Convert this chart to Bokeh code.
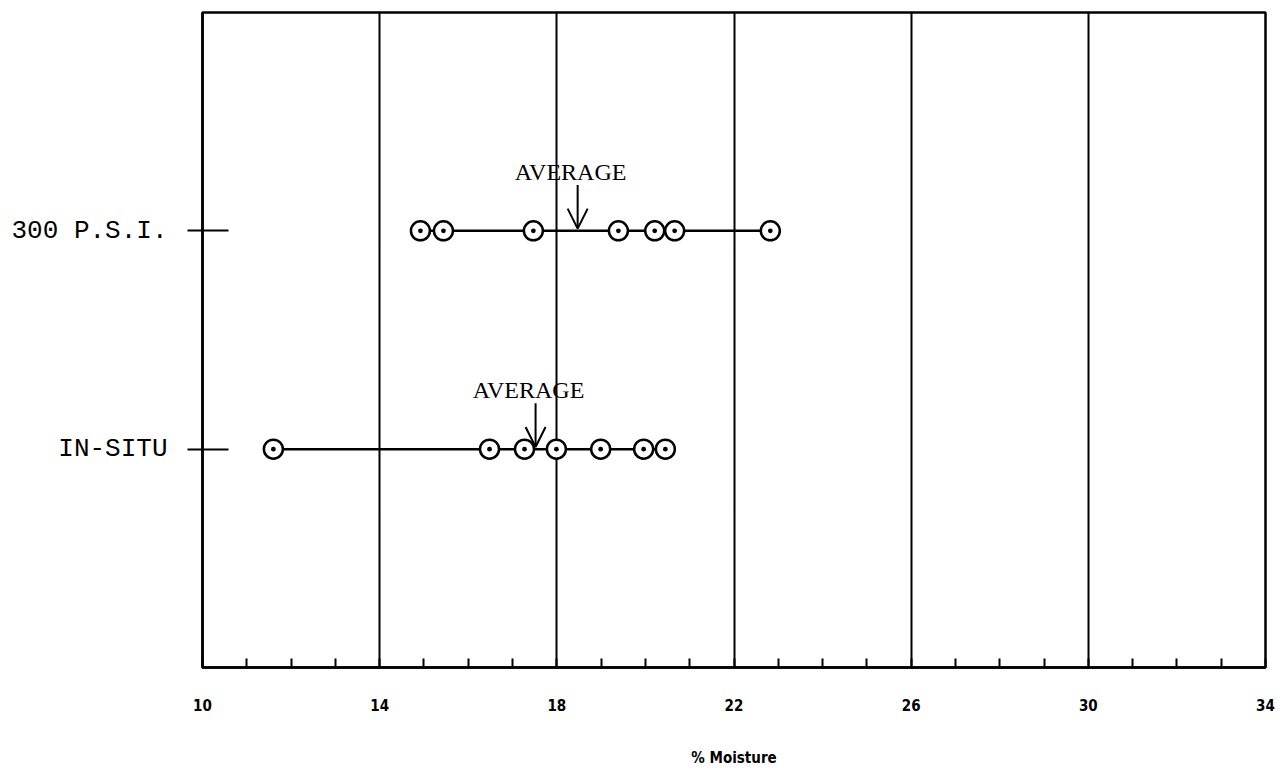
from bokeh.plotting import figure
from bokeh.models import FixedTicker, Arrow, OpenHead, ColumnDataSource
from bokeh.core.properties import value
from bokeh.embed import file_html
from bokeh.resources import INLINE

# Moisture readings (%) for each test condition
psi300_moisture = [14.92, 15.44, 17.47, 19.39, 20.21, 20.66, 22.82]
insitu_moisture = [11.60, 16.48, 17.27, 17.99, 18.99, 19.96, 20.45]
averages = {"300 P.S.I.": 18.47, "IN-SITU": 17.52}

row_labels = ["IN-SITU", "300 P.S.I."]
row_pos = [1, 2]
x_ticks = [10, 14, 18, 22, 26, 30, 34]
x_minor = list(range(10, 35))

p = figure(width=1284, height=770, x_range=(10, 34), y_range=(0, 3),
           output_backend="svg", toolbar_location=None,
           min_border_left=202, min_border_right=19,
           min_border_top=12, min_border_bottom=103,
           background_fill_color="white", border_fill_color="white")

p.outline_line_color = "black"
p.outline_line_width = 2.5

# x axis
p.xaxis.ticker = FixedTicker(ticks=x_ticks, minor_ticks=x_minor)
p.xaxis.axis_line_color = "black"
p.xaxis.axis_line_width = 2.5
p.xaxis.major_tick_in = 0
p.xaxis.major_tick_out = 0
p.xaxis.minor_tick_in = 9
p.xaxis.minor_tick_out = 0
p.xaxis.minor_tick_line_width = 2
p.xaxis.minor_tick_line_color = "black"
p.xaxis.major_label_standoff = 31
p.xaxis.major_label_text_font = "'Liberation Sans Narrow', 'DejaVu Sans Condensed', sans-serif"
p.xaxis.major_label_text_font_style = "bold"
p.xaxis.major_label_text_font_size = "15px"
p.xaxis.major_label_text_color = "black"
p.xaxis.axis_label = "% Moisture"
p.xaxis.axis_label_standoff = 35
p.xaxis.axis_label_text_font = "'Liberation Sans Narrow', 'DejaVu Sans Condensed', sans-serif"
p.xaxis.axis_label_text_font_style = "bold"
p.xaxis.axis_label_text_font_size = "15px"
p.xaxis.axis_label_text_color = "black"

# y axis with the two condition rows
p.yaxis.ticker = FixedTicker(ticks=row_pos)
p.yaxis.major_label_overrides = {pos: lab for pos, lab in zip(row_pos, row_labels)}
p.yaxis.axis_line_color = "black"
p.yaxis.axis_line_width = 2.5
p.yaxis.major_tick_out = 15
p.yaxis.major_tick_in = 26
p.yaxis.major_tick_line_width = 2
p.yaxis.major_tick_line_color = "black"
p.yaxis.minor_tick_line_color = None
p.yaxis.major_label_standoff = 20
p.yaxis.major_label_text_font = "Liberation Mono"
p.yaxis.major_label_text_font_size = "26px"
p.yaxis.major_label_text_color = "black"

p.xgrid.ticker = FixedTicker(ticks=x_ticks)
p.xgrid.grid_line_color = "black"
p.xgrid.grid_line_width = 2
p.xgrid.grid_line_alpha = 1
p.ygrid.grid_line_color = None

series = [("300 P.S.I.", 2, psi300_moisture), ("IN-SITU", 1, insitu_moisture)]

for name, ypos, vals in series:
    # range line from lowest to highest reading
    p.segment(x0=[min(vals)], y0=[ypos], x1=[max(vals)], y1=[ypos],
              line_color="black", line_width=2.5)
    src = ColumnDataSource(dict(x=vals, y=[ypos] * len(vals)))
    p.scatter("x", "y", source=src, marker="circle_dot", size=19,
              line_color="black", line_width=2.5, fill_color="white")

    avg = averages[name]
    p.add_layout(Arrow(end=OpenHead(size=20, line_width=2, line_color="black"),
                       x_start=avg, y_start=ypos + 0.21, x_end=avg, y_end=ypos + 0.01,
                       line_width=2, line_color="black"))
    p.text(x=[avg], y=[ypos + 0.27], text=["AVERAGE"],
           text_font=value("Liberation Serif"), text_font_size="24px",
           text_align="center", text_baseline="alphabetic", text_color="black",
           x_offset=-7)

open("out.html", "w").write(file_html(p, INLINE))
